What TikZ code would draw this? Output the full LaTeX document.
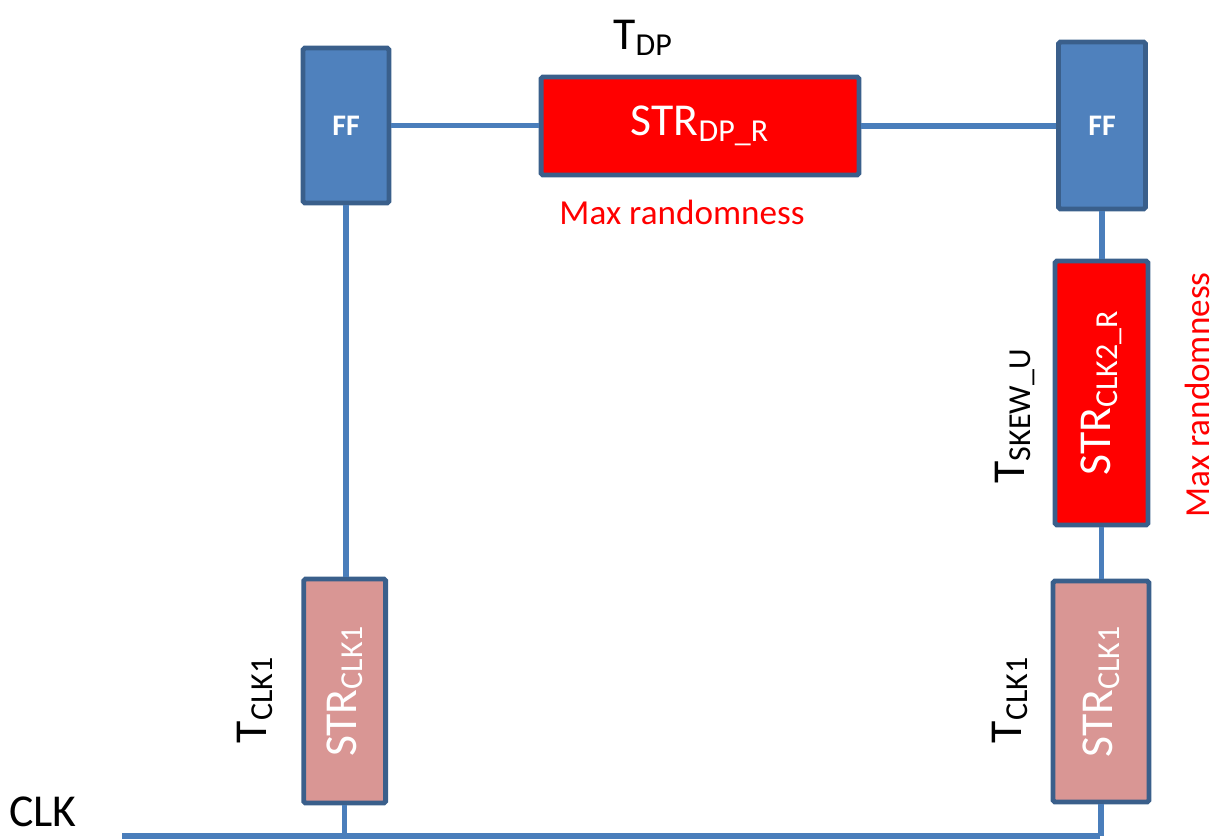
\documentclass[tikz,border=0pt]{standalone}
\usepackage{fontspec}
\setmainfont{Carlito}
\definecolor{ffblue}{HTML}{4F81BD}
\definecolor{edgeblue}{HTML}{3A5F8B}
\definecolor{wireblue}{HTML}{4A7EBB}
\definecolor{strpink}{HTML}{D99694}
\newcommand{\bigtxt}{\fontsize{26}{30}\selectfont}
\newcommand{\midtxt}{\fontsize{20}{24}\selectfont}

\begin{document}
\begin{tikzpicture}[x=0.02cm, y=-0.02cm,
	blk/.style={draw=edgeblue, line width=2.8pt, rounded corners=1pt, inner sep=0pt, text=white},
	ffblk/.style={blk, fill=ffblue, font=\bfseries\fontsize{17}{20}\selectfont},
	redblk/.style={blk, fill=red, font=\bigtxt},
	pinkblk/.style={blk, fill=strpink, font=\bigtxt},
	wire/.style={draw=wireblue, line width=3pt},
	tlbl/.style={font=\bigtxt, inner sep=0pt},
	maxlbl/.style={font=\midtxt, text=red, inner sep=0pt}]
			%%%%% START %%%%%
			\useasboundingbox (0,0) rectangle (1216,839);
			
			% flip-flops and data path
			\node[ffblk, minimum width=1.72cm, minimum height=3.10cm] (ffL) at (346,125.5) {FF};
			\node[ffblk, minimum width=1.74cm, minimum height=3.34cm] (ffR) at (1102,125.5) {FF};
			\node[redblk, minimum width=6.36cm, minimum height=1.96cm] (strDP) at (700,126) {STR\textsubscript{DP\_R}};
			
			% clock branches
			\node[redblk, minimum width=1.86cm, minimum height=5.28cm] (strCLKtwo) at (1101.5,393) {\rotatebox{90}{STR\textsubscript{CLK2\_R}}};
			\node[pinkblk, minimum width=1.64cm, minimum height=4.48cm] (strL) at (344.7,691) {\rotatebox{90}{STR\textsubscript{CLK1}}};
			\node[pinkblk, minimum width=1.92cm, minimum height=4.42cm] (strR) at (1101,691.5) {\rotatebox{90}{STR\textsubscript{CLK1}}};
			
			\coordinate (busW) at (122,836);
			\coordinate (busE) at (1100,836);
			
			\draw[wire] (ffL.east) -- (ffL.east -| strDP.west);
			\draw[wire] (strDP.east) -- (strDP.east -| ffR.west);
			\draw[wire] (ffL.south) -- (ffL.south |- strL.north);
			\draw[wire] (ffR.south) -- (ffR.south |- strCLKtwo.north);
			\draw[wire] (strCLKtwo.south) -- (strCLKtwo.south |- strR.north);
			\draw[wire] (busW) -- (busE);
			\draw[wire] (strL.south) -- (strL.south |- busW);
			\draw[wire] (strR.south) -- (strR.south |- busW);
			
			% labels
			\node[tlbl] (tDP) at (643,38) {T\textsubscript{DP}};
			\node[maxlbl] (maxTop) at (682,212) {Max randomness};
			\node[tlbl, rotate=90] (tSkew) at (1015,416) {T\textsubscript{SKEW\_U}};
			\node[maxlbl, rotate=90] (maxSide) at (1197,395) {Max randomness};
			\node[tlbl, rotate=90] (tClkL) at (255,700) {T\textsubscript{CLK1}};
			\node[tlbl, rotate=90] (tClkR) at (1010,700) {T\textsubscript{CLK1}};
			\node[tlbl] (clk) at (43,812) {CLK};
			
			%%%%% END %%%%%
\end{tikzpicture}
\end{document}
